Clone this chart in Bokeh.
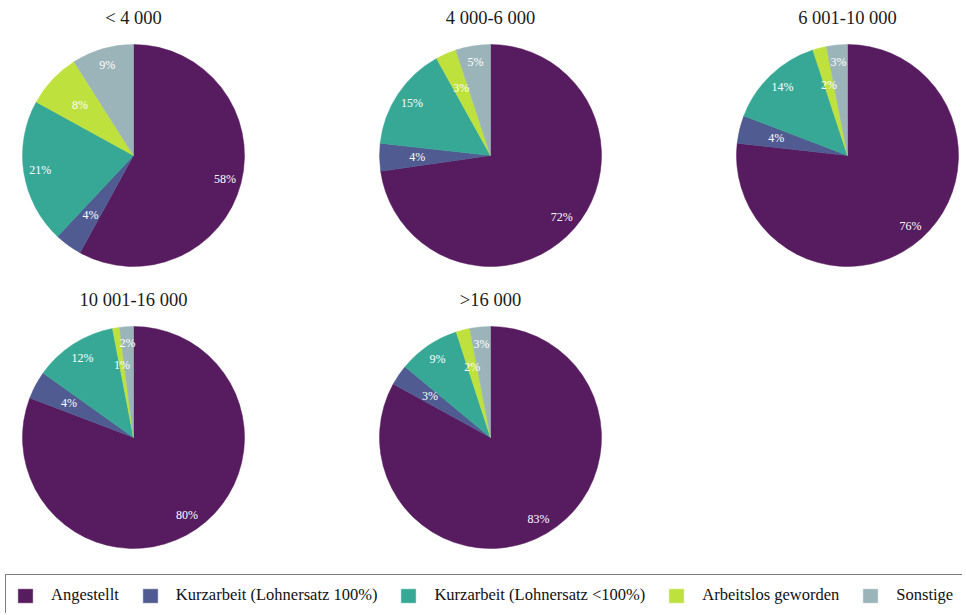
import numpy as np
from bokeh.plotting import figure
from bokeh.models import ColumnDataSource, Range1d, Legend, LegendItem
from bokeh.core.properties import value
from bokeh.embed import file_html
from bokeh.resources import INLINE

# ---- data ----
groups = ["< 4 000", "4 000-6 000", "6 001-10 000", "10 001-16 000", ">16 000"]
categories = ["Angestellt", "Kurzarbeit (Lohnersatz 100%)",
              "Kurzarbeit (Lohnersatz <100%)", "Arbeitslos geworden", "Sonstige"]
colors = ["#571b5f", "#4f5b91", "#36a895", "#bee13d", "#9bb4b9"]
angestellt = [58, 72, 76, 80, 83]
kurz100 = [4, 4, 4, 4, 3]
kurz_lt100 = [21, 15, 14, 12, 9]
arbeitslos = [8, 3, 2, 1, 2]
sonstige = [9, 5, 3, 2, 3]

# ---- layout ----
W, H = 962, 613
PAGE_H = 615
R = 111
X0, DX = 133, 357
Y_ROWS = [155, 437]          # page pixel rows of pie centres
TITLE_OFF = 138              # title above pie centre
LABEL_FRACS = [0.85, 0.66]   # alternating label radii
SERIF = "Liberation Serif"

series = [angestellt, kurz100, kurz_lt100, arbeitslos, sonstige]

wx, wy, ws, we, wc = [], [], [], [], []
lx, ly, lt = [], [], []
tx, ty, tt = [], [], []
for g, name in enumerate(groups):
    col, row = g % 3, g // 3
    cx = X0 + col * DX
    cy = PAGE_H - Y_ROWS[row]
    vals = np.array([s[g] for s in series], dtype=float)
    frac = vals / vals.sum()
    cum = np.concatenate([[0], np.cumsum(frac)])
    for i in range(len(categories)):
        a0 = np.pi / 2 - 2 * np.pi * cum[i]
        a1 = np.pi / 2 - 2 * np.pi * cum[i + 1]
        wx.append(cx); wy.append(cy); ws.append(a0); we.append(a1); wc.append(colors[i])
        am = (a0 + a1) / 2
        rf = LABEL_FRACS[i % 2]
        lx.append(cx + rf * R * np.cos(am))
        ly.append(cy + rf * R * np.sin(am))
        lt.append(f"{int(vals[i])}%")
    tx.append(cx); ty.append(cy + TITLE_OFF); tt.append(name)

p = figure(width=W, height=H, output_backend="svg", toolbar_location=None,
           x_range=Range1d(0, W), y_range=Range1d(PAGE_H - H, PAGE_H),
           min_border=0, outline_line_color=None, background_fill_color="white",
           border_fill_color="white")
p.axis.visible = False
p.xgrid.visible = False
p.ygrid.visible = False

wsrc = ColumnDataSource(dict(x=wx, y=wy, s=ws, e=we, c=wc))
wr = p.wedge(x="x", y="y", radius=R, start_angle="s", end_angle="e",
             direction="clock", fill_color="c", line_color="c", line_width=0.5,
             source=wsrc)

p.text(x=lx, y=ly, text=lt, text_align="center", text_baseline="middle",
       text_font=value(SERIF), text_font_size="12px", text_color="white")

p.text(x=tx, y=ty, text=tt, text_align="center", text_baseline="middle",
       text_font=value(SERIF), text_font_size="18.5px", text_color="#1a1a1a")

legend = Legend(items=[LegendItem(label=c, renderers=[wr], index=i)
                       for i, c in enumerate(categories)],
                orientation="horizontal", location=(5, -3),
                border_line_color="black", border_line_width=1.5,
                background_fill_color="white", background_fill_alpha=1,
                label_text_font=SERIF, label_text_font_size="16.5px",
                label_text_color="#111111",
                glyph_width=18, glyph_height=17, label_standoff=17,
                spacing=22, padding=10, margin=0)
p.add_layout(legend)

open("out.html", "w").write(file_html(p, INLINE))
